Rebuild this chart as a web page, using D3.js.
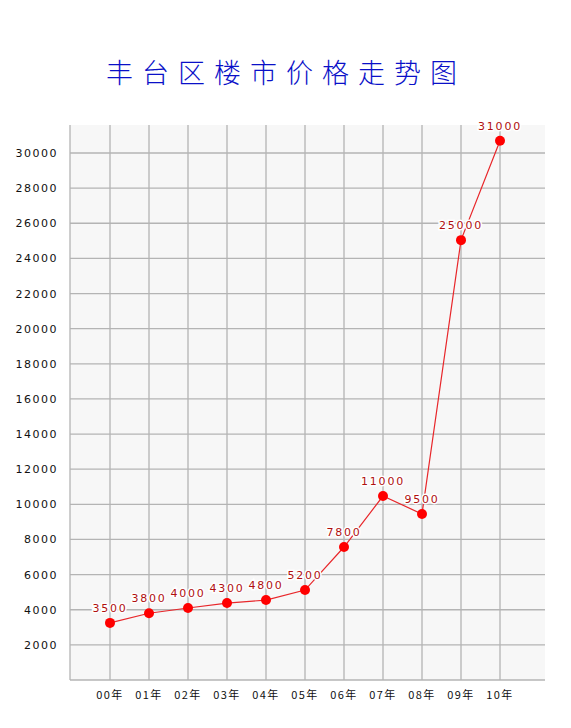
<!DOCTYPE html>
<html><head><meta charset="utf-8">
<script src="https://cdn.jsdelivr.net/npm/d3@7"></script>
<style>body{margin:0;background:#fff}</style>
</head><body><svg width="571" height="728"></svg>
<script>
const years = ['00年','01年','02年','03年','04年','05年','06年','07年','08年','09年','10年'];
const values = [3250, 3800, 4100, 4380, 4550, 5120, 7570, 10470, 9450, 25040, 30700];
const labels = ['3500','3800','4000','4300','4800','5200','7800','11000','9500','25000','31000'];
const yTicks = d3.range(2000, 30001, 2000);

const svg = d3.select('svg');
const x = d3.scaleLinear().domain([-1, 11]).range([71, 539]);
const y = d3.scaleLinear().domain([0, 30000]).range([680, 153]);
const plotL = 70, plotR = 545, plotT = 125, plotB = 680;

svg.append('text').attr('x', 286).attr('y', 83).attr('text-anchor', 'middle')
  .attr('font-family', 'Noto Sans CJK SC').attr('font-size', 27).attr('font-weight', 300).attr('letter-spacing', 9)
  .attr('fill', '#0a10c8').text('丰台区楼市价格走势图');

svg.append('rect').attr('x', plotL).attr('y', plotT).attr('width', plotR - plotL).attr('height', plotB - plotT).attr('fill', '#f7f7f7');

const grid = svg.append('g').attr('stroke', '#b4b4b4').attr('stroke-width', 1.3);
yTicks.forEach(t => grid.append('line').attr('x1', plotL).attr('x2', plotR).attr('y1', y(t)).attr('y2', y(t)));
d3.range(0, 11).forEach(i => grid.append('line').attr('x1', x(i)).attr('x2', x(i)).attr('y1', plotT).attr('y2', plotB));
grid.append('line').attr('x1', plotL).attr('x2', plotL).attr('y1', plotT).attr('y2', plotB);
grid.append('line').attr('x1', plotL).attr('x2', plotR).attr('y1', plotB).attr('y2', plotB);

svg.append('g').selectAll('text').data(yTicks).join('text')
  .attr('x', 58).attr('y', d => y(d) + 4).attr('text-anchor', 'end')
  .attr('font-family', 'DejaVu Sans').attr('font-size', 11).attr('letter-spacing', 1.5).attr('fill', '#111')
  .text(d => d);

svg.append('g').selectAll('text').data(years).join('text')
  .attr('x', (d, i) => x(i)).attr('y', 699).attr('text-anchor', 'middle')
  .attr('font-family', 'Noto Sans CJK SC').attr('font-size', 11).attr('letter-spacing', 1.5).attr('fill', '#111')
  .text(d => d);

svg.append('path').datum(values)
  .attr('d', d3.line().x((d, i) => x(i)).y(d => y(d)))
  .attr('fill', 'none').attr('stroke', '#e8262a').attr('stroke-width', 1.2);

svg.append('g').selectAll('circle').data(values).join('circle')
  .attr('cx', (d, i) => x(i)).attr('cy', d => y(d)).attr('r', 5).attr('fill', '#ff0000');

svg.append('g').selectAll('text').data(labels).join('text')
  .attr('x', (d, i) => x(i)).attr('y', (d, i) => y(values[i]) - 11).attr('text-anchor', 'middle')
  .attr('font-family', 'DejaVu Sans').attr('font-size', 11).attr('letter-spacing', 1.8)
  .attr('fill', '#b01010').attr('stroke', '#fff').attr('stroke-width', 3).attr('paint-order', 'stroke')
  .text(d => d);
</script></body></html>
